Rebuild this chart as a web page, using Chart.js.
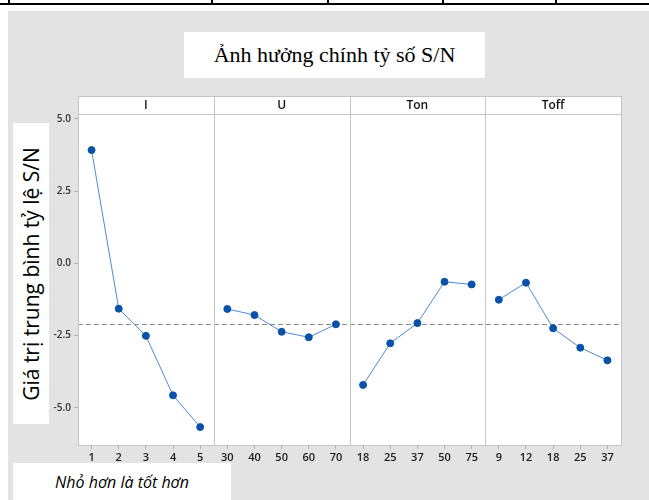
<!DOCTYPE html>
<html>
<head>
<meta charset="utf-8">
<script src="https://cdn.jsdelivr.net/npm/chart.js@4"></script>
<style>
  body { margin: 0; width: 649px; height: 500px; position: relative; background: #fff; overflow: hidden; }
  .nen { position: absolute; left: 8px; top: 11px; right: 0; bottom: 0; background: #e3e3e3; }
  .ke { position: absolute; background: #000; }
  .hop { position: absolute; background: #fff; display: flex; align-items: center; justify-content: center; }
  #tieude { left: 184px; top: 32px; width: 301px; height: 46px; font: 22px "Liberation Serif", serif; color: #000; }
  #nhanY { left: 13px; top: 123px; width: 36px; height: 301px; }
  #nhanY span { transform: rotate(-90deg); white-space: nowrap; font: 21px "Open Sans", sans-serif; color: #000; }
  #ghichu { left: 13px; top: 463px; width: 218px; height: 37px; font: italic 16px "Open Sans", sans-serif; color: #000; }
  canvas { position: absolute; left: 0; top: 0; }
</style>
</head>
<body>
<div class="ke" style="left:0;top:3px;width:649px;height:2px"></div>
<div class="ke" style="left:8px;top:0;width:2px;height:5px"></div>
<div class="ke" style="left:211px;top:0;width:2px;height:5px"></div>
<div class="ke" style="left:327px;top:0;width:2px;height:5px"></div>
<div class="ke" style="left:442px;top:0;width:2px;height:5px"></div>
<div class="ke" style="left:555px;top:0;width:2px;height:5px"></div>
<div class="nen"></div>
<canvas id="bieudo" width="649" height="500"></canvas>
<div class="hop" id="tieude">Ảnh hưởng chính tỷ số S/N</div>
<div class="hop" id="nhanY"><span>Giá trị trung bình tỷ lệ S/N</span></div>
<div class="hop" id="ghichu">Nhỏ hơn là tốt hơn</div>

<script>
// các yếu tố và mức của từng yếu tố
var yeuTo = ['I', 'U', 'Ton', 'Toff'];
var mucI = ['1', '2', '3', '4', '5'];
var mucU = ['30', '40', '50', '60', '70'];
var mucTon = ['18', '25', '37', '50', '75'];
var mucToff = ['9', '12', '18', '25', '37'];

// giá trị trung bình S/N
var snI = [3.92, -1.57, -2.51, -4.57, -5.67];
var snU = [-1.58, -1.79, -2.37, -2.56, -2.11];
var snTon = [-4.21, -2.77, -2.07, -0.64, -0.73];
var snToff = [-1.26, -0.67, -2.25, -2.92, -3.36];

var vachY = [-5, -2.5, 0, 2.5, 5];

var cacMuc = [mucI, mucU, mucTon, mucToff];
var cacGiaTri = [snI, snU, snTon, snToff];

// ghép nhãn trục x của 4 ô
var nhanX = [];
for (var i = 0; i < cacMuc.length; i++) {
    nhanX = nhanX.concat(cacMuc[i]);
}

// mỗi yếu tố là một dataset, chỗ khác để null cho đường không nối qua
var boDuLieu = [];
var tong = 0;
var dem = 0;
var viTri = 0;
for (var k = 0; k < cacGiaTri.length; k++) {
    var d = [];
    for (var j = 0; j < nhanX.length; j++) d.push(null);
    for (var j = 0; j < cacGiaTri[k].length; j++) {
        d[viTri + j] = cacGiaTri[k][j];
        tong += cacGiaTri[k][j];
        dem++;
    }
    viTri += cacGiaTri[k].length;
    boDuLieu.push({
        label: yeuTo[k],
        data: d,
        borderColor: '#4f8ad0',
        borderWidth: 1,
        pointBackgroundColor: '#0a52a8',
        pointBorderColor: '#0a52a8',
        pointRadius: 3.5,
        pointHoverRadius: 3.5,
        spanGaps: false,
        tension: 0
    });
}
var trungBinh = tong / dem;

var caoDai = 18; // chiều cao dải tên yếu tố

var veO = {
    id: 'veO',
    beforeDraw: function(chart) {
        var ctx = chart.ctx, a = chart.chartArea;
        ctx.save();
        ctx.fillStyle = '#fff';
        ctx.fillRect(a.left, a.top - caoDai, a.right - a.left, a.bottom - a.top + caoDai);
        ctx.restore();
    },
    beforeDatasetsDraw: function(chart) {
        var ctx = chart.ctx, a = chart.chartArea;
        var y = chart.scales.y.getPixelForValue(trungBinh);
        ctx.save();
        ctx.strokeStyle = '#8c8c8c';
        ctx.lineWidth = 1;
        ctx.setLineDash([5, 3]);
        ctx.beginPath();
        ctx.moveTo(a.left, Math.round(y) + 0.5);
        ctx.lineTo(a.right, Math.round(y) + 0.5);
        ctx.stroke();
        ctx.restore();
    },
    afterDraw: function(chart) {
        var ctx = chart.ctx, a = chart.chartArea;
        var rong = (a.right - a.left) / yeuTo.length;
        ctx.save();
        ctx.strokeStyle = '#c4c4c4';
        ctx.lineWidth = 1;
        ctx.strokeRect(a.left + 0.5, a.top - caoDai + 0.5, a.right - a.left, a.bottom - a.top + caoDai);
        ctx.beginPath();
        ctx.moveTo(a.left, a.top + 0.5);
        ctx.lineTo(a.right, a.top + 0.5);
        for (var k = 1; k < yeuTo.length; k++) {
            var x = Math.round(a.left + rong * k) + 0.5;
            ctx.moveTo(x, a.top - caoDai);
            ctx.lineTo(x, a.bottom);
        }
        ctx.stroke();
        ctx.fillStyle = '#111';
        ctx.font = '600 12px "Open Sans"';
        ctx.textAlign = 'center';
        ctx.textBaseline = 'middle';
        for (var k = 0; k < yeuTo.length; k++) {
            ctx.fillText(yeuTo[k], a.left + rong * (k + 0.5), a.top - caoDai / 2 + 1);
        }
        ctx.restore();
    }
};

new Chart(document.getElementById('bieudo'), {
    type: 'line',
    data: { labels: nhanX, datasets: boDuLieu },
    options: {
        responsive: false,
        animation: false,
        layout: { padding: { top: 114, right: 28, left: 0, bottom: 0 } },
        plugins: { legend: { display: false }, tooltip: { enabled: false } },
        scales: {
            x: {
                type: 'category',
                offset: true,
                afterFit: function(s) { s.height = 55; },
                grid: { offset: false, drawOnChartArea: false, drawTicks: true, tickLength: 4, color: '#b0b0b0' },
                border: { display: false },
                ticks: { autoSkip: false, maxRotation: 0, padding: 2, color: '#1a1a1a', font: { family: 'Open Sans', size: 11, weight: '600' } }
            },
            y: {
                min: -6.29,
                max: 5.17,
                afterFit: function(s) { s.width = 78; },
                afterBuildTicks: function(s) {
                    s.ticks = vachY.map(function(v) { return { value: v }; });
                },
                grid: { drawOnChartArea: false, drawTicks: true, tickLength: 4, color: '#b0b0b0' },
                border: { display: false },
                ticks: {
                    padding: 3,
                    color: '#333',
                    font: { family: 'Open Sans', size: 10, weight: '600' },
                    callback: function(v) { return Number(v).toFixed(1); }
                }
            }
        }
    },
    plugins: [veO]
});
</script>
</body>
</html>
